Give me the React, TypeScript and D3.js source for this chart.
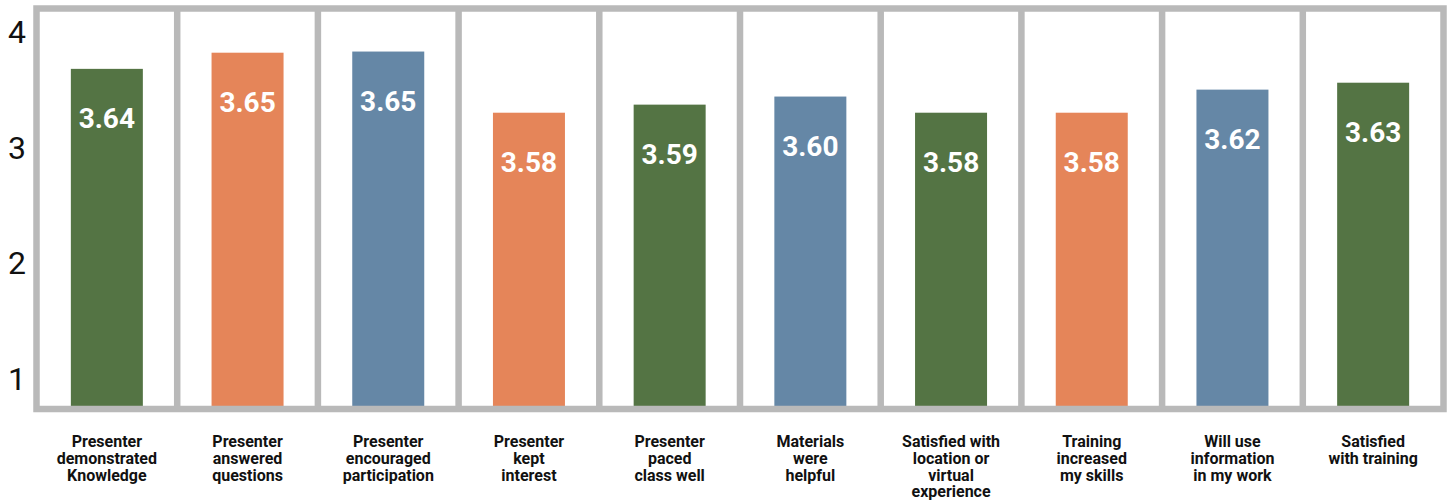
import React from "react";
import * as d3 from "d3";

// ---- data ----
const categories: string[][] = [
  ["Presenter", "demonstrated", "Knowledge"],
  ["Presenter", "answered", "questions"],
  ["Presenter", "encouraged", "participation"],
  ["Presenter", "kept", "interest"],
  ["Presenter", "paced", "class well"],
  ["Materials", "were", "helpful"],
  ["Satisfied with", "location or", "virtual", "experience"],
  ["Training", "increased", "my skills"],
  ["Will use", "information", "in my work"],
  ["Satisfied", "with training"],
];
// printed scores
const scores = [3.64, 3.65, 3.65, 3.58, 3.59, 3.6, 3.58, 3.58, 3.62, 3.63];
// bar heights as read against the y axis
const barLevels = [3.68, 3.82, 3.83, 3.3, 3.37, 3.44, 3.3, 3.3, 3.5, 3.56];
const colorKeys = ["green", "orange", "blue", "orange", "green", "blue", "green", "orange", "blue", "green"];
const yTicks = [1, 2, 3, 4];

const palette: Record<string, string> = {
  green: "#547444",
  orange: "#e58559",
  blue: "#6587a6",
};

const W = 1450;
const H = 501;
const frame = { left: 36.5, right: 1443.5, top: 8.5, bottom: 409 };
const GRID = "#b9b9b9";
const SW = 6.5;

export default function App() {
  const ids = categories.map((_, i) => String(i));
  const x = d3.scaleBand<string>().domain(ids).range([frame.left, frame.right]).padding(0);
  const y = d3.scaleLinear().domain([0.75, 4.19]).range([407, 10]);
  const barW = 72;
  const fontUI = "Roboto, 'Noto Sans', Arial, sans-serif";

  return (
    <svg
      width={W}
      height={H}
      viewBox={`0 0 ${W} ${H}`}
      style={{ position: "absolute", left: 0, top: 0, display: "block", background: "#fff" }}
    >
      {/* bars */}
      {ids.map((id, i) => {
        const cx = (x(id) as number) + x.bandwidth() / 2;
        const top = y(barLevels[i]);
        return (
          <g key={"b" + id}>
            <rect x={cx - barW / 2} y={top} width={barW} height={y(0.75) - top} fill={palette[colorKeys[i]]} />
            <text
              x={cx}
              y={top + 59}
              textAnchor="middle"
              fill="#fff"
              fontFamily={fontUI}
              fontWeight={700}
              fontSize={28}
            >
              {d3.format(".2f")(scores[i])}
            </text>
          </g>
        );
      })}

      {/* frame and dividers */}
      {ids.slice(1).map((id) => (
        <line
          key={"d" + id}
          x1={x(id) as number}
          x2={x(id) as number}
          y1={frame.top}
          y2={frame.bottom}
          stroke={GRID}
          strokeWidth={SW}
        />
      ))}
      <rect
        x={frame.left}
        y={frame.top}
        width={frame.right - frame.left}
        height={frame.bottom - frame.top}
        fill="none"
        stroke={GRID}
        strokeWidth={SW}
      />

      {/* y tick labels */}
      {yTicks.map((t) => (
        <text
          key={"t" + t}
          x={17}
          y={y(t)}
          dy="0.36em"
          textAnchor="middle"
          fontFamily={fontUI}
          fontSize={32}
          fill="#111"
        >
          {t}
        </text>
      ))}

      {/* category labels */}
      {ids.map((id, i) => {
        const cx = (x(id) as number) + x.bandwidth() / 2;
        return (
          <text
            key={"c" + id}
            textAnchor="middle"
            fontFamily={fontUI}
            fontWeight={700}
            fontSize={16}
            fill="#111"
          >
            {categories[i].map((line, j) => (
              <tspan key={j} x={cx} y={447 + j * 16.8}>
                {line}
              </tspan>
            ))}
          </text>
        );
      })}
    </svg>
  );
}
